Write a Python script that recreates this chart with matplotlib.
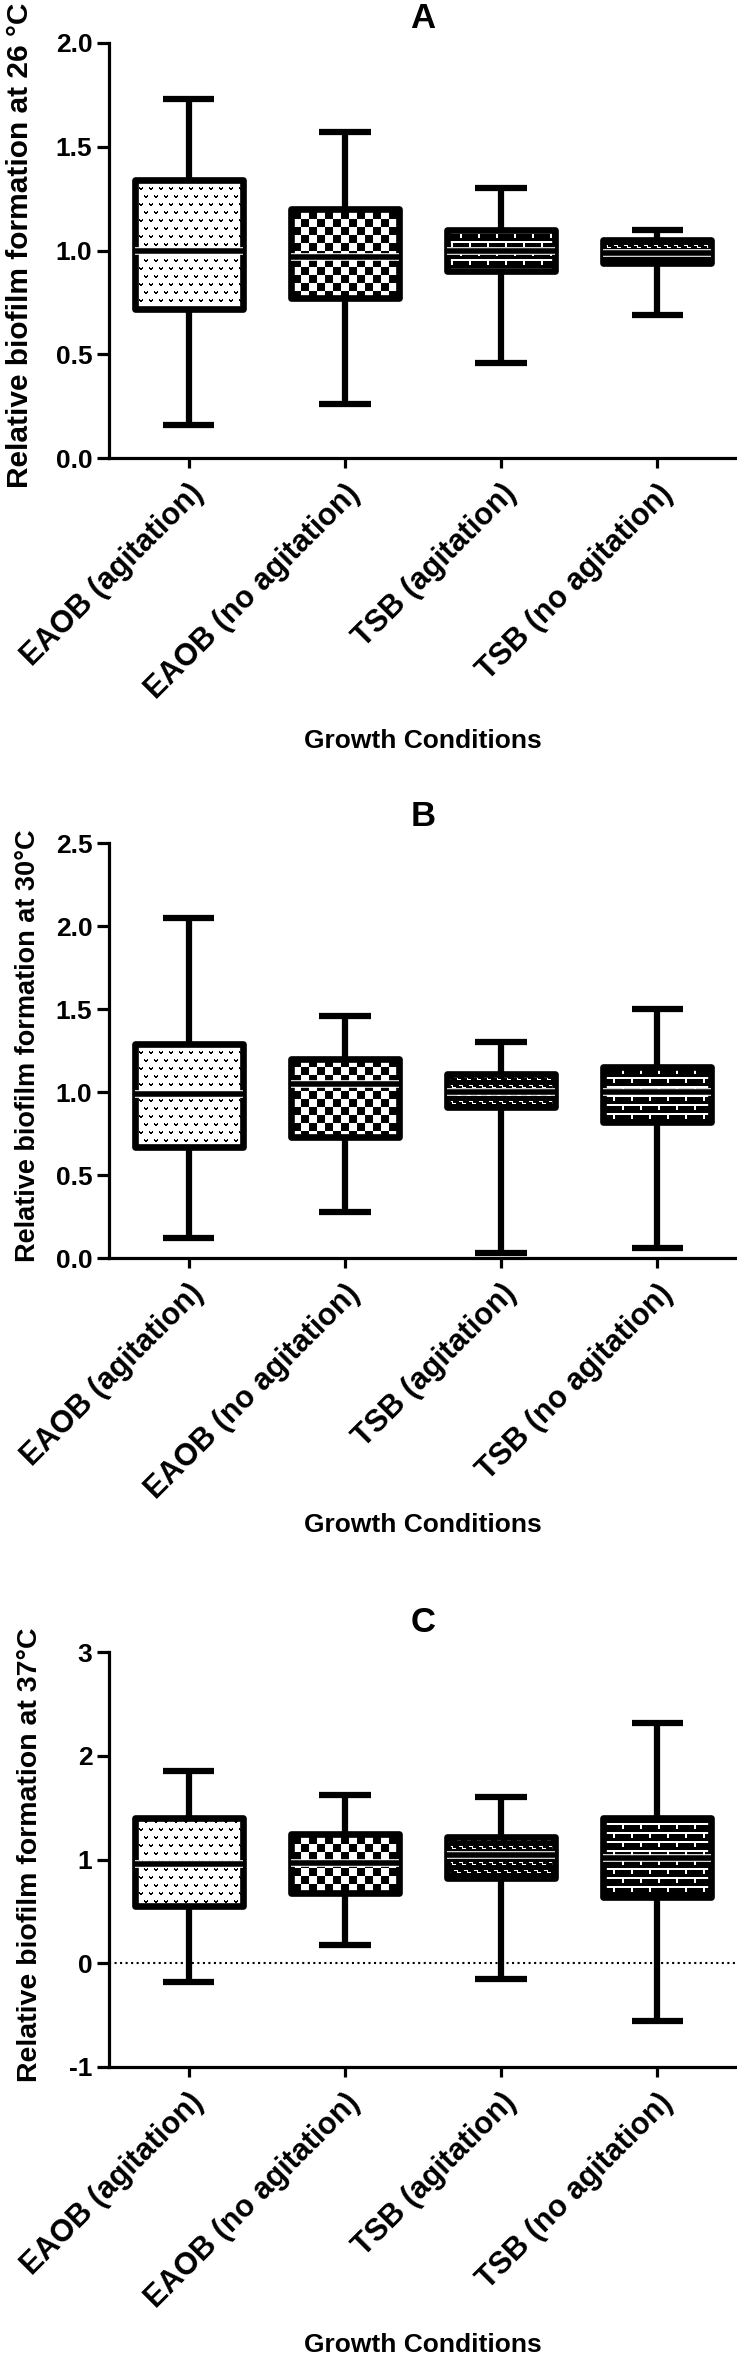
import matplotlib
matplotlib.use('Agg')

import matplotlib.pyplot as plt
import matplotlib.patheffects as pe
import numpy as np

plt.rcParams['font.family'] = ['Liberation Sans', 'DejaVu Sans']
plt.rcParams['font.weight'] = 'bold'

# --- data (box = quartiles, whiskers = min/max) ---
conditions = ['EAOB (agitation)', 'EAOB (no agitation)',
              'TSB (agitation)', 'TSB (no agitation)']

# A: 26 C
a_whislo = [0.16, 0.26, 0.46, 0.69]
a_q1 = [0.72, 0.77, 0.90, 0.94]
a_med = [1.00, 0.97, 1.00, 0.99]
a_q3 = [1.34, 1.20, 1.10, 1.05]
a_whishi = [1.73, 1.57, 1.30, 1.10]

# B: 30 C
b_whislo = [0.12, 0.28, 0.03, 0.06]
b_q1 = [0.67, 0.73, 0.91, 0.82]
b_med = [0.99, 1.05, 1.00, 1.00]
b_q3 = [1.29, 1.20, 1.11, 1.15]
b_whishi = [2.05, 1.46, 1.30, 1.50]

# C: 37 C
c_whislo = [-0.18, 0.18, -0.15, -0.56]
c_q1 = [0.55, 0.68, 0.82, 0.64]
c_med = [0.96, 0.97, 1.04, 1.01]
c_q3 = [1.40, 1.25, 1.22, 1.40]
c_whishi = [1.85, 1.62, 1.60, 2.32]


def make_texture(kind, h, w):
    '''pixel fill patterns (1 = white, 0 = black)'''
    y, x = np.mgrid[0:h, 0:w]
    if kind == 'dots':
        row = y // 8
        xs = (x + (row % 2) * 5) % 10
        ry = y % 8
        black = ((ry <= 1) & ((xs == 0) | (xs == 3))) | \
                ((ry >= 1) & (ry <= 2) & ((xs == 1) | (xs == 2)))
        return np.where(black, 0.0, 1.0)
    if kind == 'checker':
        return ((x // 8 + y // 8) % 2).astype(float)
    if kind == 'brick':
        ry = y % 9
        row = y // 9
        xs = (x + (row % 2) * 9) % 18
        white = (ry <= 1) | ((xs <= 1) & (ry < 6))
        return np.where(white, 1.0, 0.0)
    # small white dashes on black
    ry = y % 8
    row = y // 8
    xs = (x + (row % 2) * 5) % 10
    white = ((ry == 2) & (xs <= 2)) | ((ry == 4) & (xs >= 4) & (xs <= 6)) | \
            ((xs == 3) & (ry >= 2) & (ry <= 4))
    return np.where(white, 1.0, 0.0)


def draw_panel(ax, whislo, q1, med, q3, whishi, textures, ylim, yticks, yticklabels):
    stats = []
    for i in range(len(conditions)):
        stats.append(dict(whislo=whislo[i], q1=q1[i], med=med[i], q3=q3[i],
                          whishi=whishi[i], label=conditions[i]))
    pos = np.arange(len(conditions))
    bp = ax.bxp(stats, positions=pos, widths=0.69, capwidths=0.33,
                showfliers=False, patch_artist=True,
                boxprops=dict(facecolor='none', edgecolor='black', linewidth=4.8),
                whiskerprops=dict(color='black', linewidth=4.5, solid_capstyle='butt'),
                capprops=dict(color='black', linewidth=4.5, solid_capstyle='butt'),
                medianprops=dict(color='black', linewidth=4.0, solid_capstyle='butt'))
    ax.set_xlim(-0.51, 3.51)
    ax.set_ylim(*ylim)

    bb = ax.get_window_extent()
    h, w = int(round(bb.height)), int(round(bb.width))
    x0, x1 = ax.get_xlim()
    y0, y1 = ax.get_ylim()
    for box, kind in zip(bp['boxes'], textures):
        box.set_joinstyle('round')
        box.set_zorder(4)
        im = ax.imshow(make_texture(kind, h, w), cmap='gray', vmin=0, vmax=1,
                       extent=(x0, x1, y0, y1), aspect='auto',
                       interpolation='nearest', zorder=3)
        im.set_clip_path(box)
    for m in bp['medians']:
        m.set_zorder(5)
        m.set_path_effects([pe.Stroke(linewidth=5.5, foreground='white'), pe.Normal()])
    for l in bp['whiskers'] + bp['caps']:
        l.set_zorder(2)
    ax.set_xlim(x0, x1)
    ax.set_ylim(y0, y1)

    for s in ['top', 'right']:
        ax.spines[s].set_visible(False)
    for s in ['left', 'bottom']:
        ax.spines[s].set_linewidth(2.3)
    ax.set_yticks(yticks)
    ax.set_yticklabels(yticklabels, fontsize=19, fontweight='bold')
    ax.set_xticks(pos)
    ax.set_xticklabels(conditions, fontsize=22, fontweight='bold', rotation=45,
                       ha='right', va='top', rotation_mode='anchor')
    ax.tick_params(axis='y', length=8.5, width=2.3, pad=3.5)
    ax.tick_params(axis='x', length=7, width=2.3, pad=8)


fig = plt.figure(figsize=(7.37, 23.65), dpi=100)
H = 2365.0
W = 737.0

def rect(top_px, bottom_px):
    return [109 / W, 1 - bottom_px / H, 1 - 109 / W, (bottom_px - top_px) / H]

ax1 = fig.add_axes(rect(43, 458))
ax2 = fig.add_axes(rect(843, 1258))
ax3 = fig.add_axes(rect(1652, 2067))

draw_panel(ax1, a_whislo, a_q1, a_med, a_q3, a_whishi,
           ['dots', 'checker', 'brick', 'dash'], (0, 2.0),
           [0, 0.5, 1.0, 1.5, 2.0], ['0.0', '0.5', '1.0', '1.5', '2.0'])
draw_panel(ax2, b_whislo, b_q1, b_med, b_q3, b_whishi,
           ['dots', 'checker', 'dash', 'brick'], (0, 2.5),
           [0, 0.5, 1.0, 1.5, 2.0, 2.5], ['0.0', '0.5', '1.0', '1.5', '2.0', '2.5'])
draw_panel(ax3, c_whislo, c_q1, c_med, c_q3, c_whishi,
           ['dots', 'checker', 'dash', 'brick'], (-1, 3),
           [-1, 0, 1, 2, 3], ['-1', '0', '1', '2', '3'])
ax3.axhline(0, color='black', linestyle=':', linewidth=1.5, zorder=1)

# y labels
ax1.set_ylabel('Relative biofilm formation at 26 °C', fontsize=21.5, fontweight='bold')
ax1.yaxis.set_label_coords(-0.119, 0.512)
ax2.set_ylabel('Relative biofilm formation at 30°C', fontsize=19.5, fontweight='bold')
ax2.yaxis.set_label_coords(-0.108, 0.511)
ax3.set_ylabel('Relative biofilm formation at 37°C', fontsize=20.5, fontweight='bold')
ax3.yaxis.set_label_coords(-0.105, 0.511)

# x labels
for ax, off in [(ax1, 283), (ax2, 267), (ax3, 278)]:
    ax.set_xlabel('Growth Conditions', fontsize=19, fontweight='bold', va='center')
    ax.xaxis.set_label_coords(0.5, -off / 415.0)

# panel letters
for letter, ypx in [('A', 18), ('B', 817), ('C', 1623)]:
    fig.text(423 / W, 1 - ypx / H, letter, fontsize=25, fontweight='bold',
             ha='center', va='center')

plt.savefig('out.png', dpi=100)
